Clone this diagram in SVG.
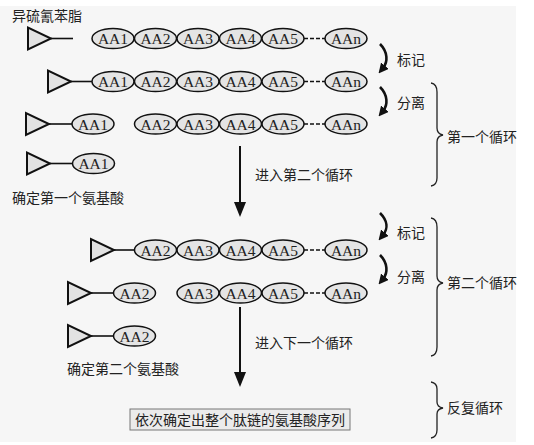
<svg xmlns="http://www.w3.org/2000/svg" width="534" height="445" viewBox="0 0 534 445">
<style>
.bg{fill:#f6f6f6}
.tri{fill:#e2e2e2;stroke:#111;stroke-width:2;stroke-linejoin:miter}
.lk{stroke:#111;stroke-width:1.6;fill:none}
.el{fill:#e4e4e4;stroke:#111;stroke-width:1.5}
.aa{font-family:"Liberation Serif","Times New Roman",serif;font-size:15.5px;fill:#222;text-anchor:middle}
.cn{font-family:"Noto Sans CJK SC","Noto Sans",sans-serif;font-size:14px;fill:#222}
.dash{stroke:#111;stroke-width:1.7;stroke-dasharray:4,2;fill:none}
.ca{stroke:#111;stroke-width:2.6;fill:none;marker-end:url(#ah)}
.va{stroke:#111;stroke-width:2;fill:none}
.br{stroke:#222;stroke-width:1.3;fill:none}
.box{fill:#ebebeb;stroke:#777;stroke-width:1}
</style>
<defs>
<marker id="ah" viewBox="0 0 10 10" refX="3" refY="5" markerWidth="10" markerHeight="10" orient="auto" markerUnits="userSpaceOnUse">
<path d="M0,0 L10,5 L0,10 Z" fill="#111"/>
</marker>
<g id="tr"><path class="tri" d="M0,-11 L0,11 L23,0 Z"/></g>
</defs>
<rect x="0" y="0" width="534" height="445" fill="#ffffff"/>
<rect class="bg" x="0" y="6" width="516" height="436"/>

<text class="cn" x="12" y="21">异硫氰苯脂</text>

<g id="row1">
<use href="#tr" x="28" y="38.5"/>
<line class="lk" x1="51" y1="38.5" x2="73" y2="38.5"/>
<ellipse class="el" cx="113" cy="38.5" rx="21" ry="10"/><text class="aa" x="113" y="44">AA1</text>
<ellipse class="el" cx="155.5" cy="38.5" rx="21" ry="10"/><text class="aa" x="155.5" y="44">AA2</text>
<ellipse class="el" cx="198" cy="38.5" rx="21" ry="10"/><text class="aa" x="198" y="44">AA3</text>
<ellipse class="el" cx="240.5" cy="38.5" rx="21" ry="10"/><text class="aa" x="240.5" y="44">AA4</text>
<ellipse class="el" cx="283" cy="38.5" rx="21" ry="10"/><text class="aa" x="283" y="44">AA5</text>
<line class="dash" x1="304" y1="38.5" x2="325" y2="38.5"/>
<ellipse class="el" cx="346" cy="38.5" rx="21" ry="10"/><text class="aa" x="346" y="44">AAn</text>
</g>

<g id="row2">
<use href="#tr" x="48" y="81.5"/>
<line class="lk" x1="71" y1="81.5" x2="92" y2="81.5"/>
<ellipse class="el" cx="113" cy="81.5" rx="21" ry="10"/><text class="aa" x="113" y="87">AA1</text>
<ellipse class="el" cx="155.5" cy="81.5" rx="21" ry="10"/><text class="aa" x="155.5" y="87">AA2</text>
<ellipse class="el" cx="198" cy="81.5" rx="21" ry="10"/><text class="aa" x="198" y="87">AA3</text>
<ellipse class="el" cx="240.5" cy="81.5" rx="21" ry="10"/><text class="aa" x="240.5" y="87">AA4</text>
<ellipse class="el" cx="283" cy="81.5" rx="21" ry="10"/><text class="aa" x="283" y="87">AA5</text>
<line class="dash" x1="304" y1="81.5" x2="325" y2="81.5"/>
<ellipse class="el" cx="346" cy="81.5" rx="21" ry="10"/><text class="aa" x="346" y="87">AAn</text>
</g>

<g id="row3">
<use href="#tr" x="26" y="124"/>
<line class="lk" x1="49" y1="124" x2="72" y2="124"/>
<ellipse class="el" cx="93" cy="124" rx="21" ry="10"/><text class="aa" x="93" y="129.5">AA1</text>
<ellipse class="el" cx="155.5" cy="124" rx="21" ry="10"/><text class="aa" x="155.5" y="129.5">AA2</text>
<ellipse class="el" cx="198" cy="124" rx="21" ry="10"/><text class="aa" x="198" y="129.5">AA3</text>
<ellipse class="el" cx="240.5" cy="124" rx="21" ry="10"/><text class="aa" x="240.5" y="129.5">AA4</text>
<ellipse class="el" cx="283" cy="124" rx="21" ry="10"/><text class="aa" x="283" y="129.5">AA5</text>
<line class="dash" x1="304" y1="124" x2="325" y2="124"/>
<ellipse class="el" cx="346" cy="124" rx="21" ry="10"/><text class="aa" x="346" y="129.5">AAn</text>
</g>

<g id="row4">
<use href="#tr" x="27" y="163.5"/>
<line class="lk" x1="50" y1="163.5" x2="73" y2="163.5"/>
<ellipse class="el" cx="93.5" cy="163.5" rx="21" ry="10"/><text class="aa" x="93.5" y="169">AA1</text>
</g>
<text class="cn" x="12" y="203">确定第一个氨基酸</text>

<g id="row5">
<use href="#tr" x="91" y="250"/>
<line class="lk" x1="114" y1="250" x2="135" y2="250"/>
<ellipse class="el" cx="155.5" cy="250" rx="21" ry="10"/><text class="aa" x="155.5" y="255.5">AA2</text>
<ellipse class="el" cx="198" cy="250" rx="21" ry="10"/><text class="aa" x="198" y="255.5">AA3</text>
<ellipse class="el" cx="240.5" cy="250" rx="21" ry="10"/><text class="aa" x="240.5" y="255.5">AA4</text>
<ellipse class="el" cx="283" cy="250" rx="21" ry="10"/><text class="aa" x="283" y="255.5">AA5</text>
<line class="dash" x1="304" y1="250" x2="325" y2="250"/>
<ellipse class="el" cx="346" cy="250" rx="21" ry="10"/><text class="aa" x="346" y="255.5">AAn</text>
</g>

<g id="row6">
<use href="#tr" x="68" y="293"/>
<line class="lk" x1="91" y1="293" x2="113" y2="293"/>
<ellipse class="el" cx="134.5" cy="293" rx="21" ry="10"/><text class="aa" x="134.5" y="298.5">AA2</text>
<ellipse class="el" cx="198" cy="293" rx="21" ry="10"/><text class="aa" x="198" y="298.5">AA3</text>
<ellipse class="el" cx="240.5" cy="293" rx="21" ry="10"/><text class="aa" x="240.5" y="298.5">AA4</text>
<ellipse class="el" cx="283" cy="293" rx="21" ry="10"/><text class="aa" x="283" y="298.5">AA5</text>
<line class="dash" x1="304" y1="293" x2="325" y2="293"/>
<ellipse class="el" cx="346" cy="293" rx="21" ry="10"/><text class="aa" x="346" y="298.5">AAn</text>
</g>

<g id="row7">
<use href="#tr" x="68" y="336"/>
<line class="lk" x1="91" y1="336" x2="113" y2="336"/>
<ellipse class="el" cx="134.5" cy="336" rx="21" ry="10"/><text class="aa" x="134.5" y="341.5">AA2</text>
</g>
<text class="cn" x="67" y="374">确定第二个氨基酸</text>

<g id="connectors">
<path class="ca" d="M380,44 C388,52 388,62 383,68"/>
<path class="ca" d="M380,87 C388,95 388,105 383,111"/>
<path class="ca" d="M380,213 C388,221 388,229 383,235"/>
<path class="ca" d="M380,255 C388,263 388,273 383,279"/>
<line class="va" x1="240" y1="146" x2="240" y2="204"/>
<path d="M234,202 L246,202 L240,217 Z" fill="#111"/>
<line class="va" x1="240" y1="307" x2="240" y2="374"/>
<path d="M234,372 L246,372 L240,387 Z" fill="#111"/>
<path class="br" d="M431,83 Q437,84 437,92 L437,128 Q437,134 443,135 Q437,136 437,142 L437,178 Q437,185 431,186"/>
<path class="br" d="M431,218 Q437,219 437,227 L437,276 Q437,282 443,283 Q437,284 437,290 L437,347 Q437,355 431,356"/>
<path class="br" d="M431,382 Q437,383 437,389 L437,402 Q437,407 443,408 Q437,409 437,414 L437,430 Q437,437 431,438"/>
</g>

<text class="cn" x="397" y="65">标记</text>
<text class="cn" x="397" y="108">分离</text>
<text class="cn" x="397" y="238">标记</text>
<text class="cn" x="397" y="282">分离</text>
<text class="cn" x="255" y="180">进入第二个循环</text>
<text class="cn" x="255" y="348">进入下一个循环</text>
<text class="cn" x="447" y="142">第一个循环</text>
<text class="cn" x="447" y="288">第二个循环</text>
<text class="cn" x="447" y="413">反复循环</text>

<g id="result">
<rect class="box" x="130" y="409" width="220" height="21"/>
<text class="cn" x="240" y="425" text-anchor="middle">依次确定出整个肽链的氨基酸序列</text>
</g>
</svg>
